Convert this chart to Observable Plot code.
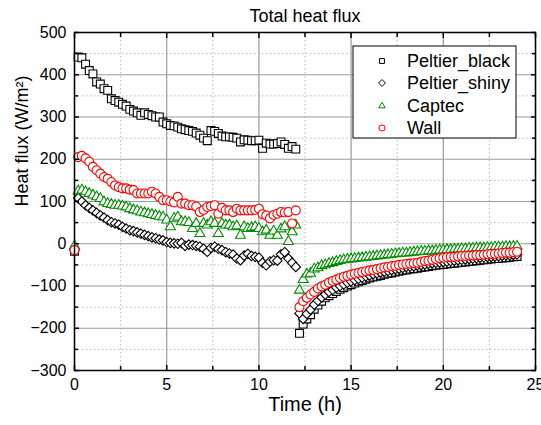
<!DOCTYPE html>
<html>
<head>
<meta charset="utf-8">
<script src="https://cdn.jsdelivr.net/npm/d3@7"></script>
<script src="https://cdn.jsdelivr.net/npm/@observablehq/plot@0.6"></script>
<style>
  html, body { margin: 0; padding: 0; background: #fff; }
  #chart { width: 541px; height: 425px; }
  svg { font-family: "Liberation Sans", Arial, sans-serif; }
</style>
</head>
<body>
<div id="chart"></div>
<script>
const title = "Total heat flux";
const xLabel = "Time (h)";
const yLabel = "Heat flux (W/m²)";
const seriesNames = ["Peltier_black", "Peltier_shiny", "Captec", "Wall"];

const xMajor = [0, 5, 10, 15, 20, 25];
const xMinor = [2.5, 7.5, 12.5, 17.5, 22.5];
const yMajor = [-300, -200, -100, 0, 100, 200, 300, 400, 500];
const yMinor = [-250, -150, -50, 50, 150, 250, 350, 450];

// time (h), heating phase and cooling phase
const time1 = [0,0.2,0.4,0.6,0.8,1,1.2,1.4,1.6,1.8,2,2.2,2.4,2.6,2.8,3,3.2,3.4,3.6,3.8,4,4.2,4.4,4.6,4.8,5,5.2,5.4,5.6,5.8,6,6.2,6.4,6.6,6.8,7,7.2,7.4,7.6,7.8,8,8.2,8.4,8.6,8.8,9,9.2,9.4,9.6,9.8,10,10.2,10.4,10.6,10.8,11,11.2,11.4,11.6,11.8,12];
const time2 = [12.2,12.4,12.6,12.8,13,13.2,13.4,13.6,13.8,14,14.2,14.4,14.6,14.8,15,15.2,15.4,15.6,15.8,16,16.2,16.4,16.6,16.8,17,17.2,17.4,17.6,17.8,18,18.2,18.4,18.6,18.8,19,19.2,19.4,19.6,19.8,20,20.2,20.4,20.6,20.8,21,21.2,21.4,21.6,21.8,22,22.2,22.4,22.6,22.8,23,23.2,23.4,23.6,23.8,24];

const peltierBlack1 = [-18,442,440,425,410,402,383,378,367,363,343,339,335,330,326,318,314,310,304,310,306,303,300,300,288,284,280,279,276,272,270,268,266,262,257,250,244,268,266,261,255,253,253,252,250,241,246,245,244,244,245,226,238,236,236,237,241,235,226,230,224];
const peltierBlack2 = [-212,-190,-178,-168,-155,-145,-136,-128,-123,-118,-113,-108,-104,-100,-97,-93,-90,-87,-84,-81,-79,-77,-75,-72,-70,-69,-67,-65,-63,-62,-60,-59,-58,-56,-55,-54,-52,-51,-50,-49,-48,-47,-46,-45,-44,-43,-42,-41,-40,-39,-38,-37,-36,-35,-35,-34,-33,-32,-31,-30];

const peltierShiny1 = [-15,108,100,91,85,79,73,67,62,56,51,48,45,40,36,32,30,27,24,21,18,15,13,10,8,4,2,1,0,2,-5,-2,-3,-5,-7,-12,-19,-10,-7,-12,-15,-20,-23,-26,-35,-39,-28,-24,-29,-31,-33,-45,-51,-42,-39,-40,-25,-20,-35,-45,-55];
const peltierShiny2 = [-165,-178,-166,-156,-144,-135,-127,-120,-114,-109,-104,-100,-96,-92,-89,-86,-83,-80,-77,-75,-72,-70,-68,-66,-64,-62,-60,-59,-57,-55,-54,-53,-51,-50,-49,-47,-46,-45,-44,-43,-42,-41,-40,-39,-38,-37,-36,-35,-34,-33,-32,-31,-31,-30,-29,-28,-27,-27,-26,-25];

const captec1 = [-5,125,127,123,119,115,111,107,99,95,93,91,91,89,87,83,80,78,75,73,71,69,67,65,63,56,40,60,63,52,52,50,36,48,24,48,44,52,48,24,48,44,44,40,42,20,40,36,38,40,36,28,32,20,30,20,35,40,5,28,44];
const captec2 = [-110,-85,-72,-70,-60,-57,-52,-50,-47,-45,-42,-40,-38,-37,-36,-35,-34,-33,-32,-31,-30,-29,-28,-27,-26,-25,-24,-23,-22,-22,-21,-20,-19,-18,-18,-17,-17,-16,-15,-15,-14,-14,-13,-13,-12,-12,-11,-11,-10,-10,-10,-9,-9,-8,-8,-8,-7,-7,-6,-6];

const wall1 = [-15,205,208,202,194,182,174,166,158,154,146,138,134,131,131,128,127,119,119,119,119,123,119,111,103,103,100,98,111,95,95,91,91,88,75,80,87,89,91,71,85,79,79,75,83,79,79,79,79,80,83,70,67,60,68,71,75,74,75,48,79];
const wall2 = [-150,-136,-128,-120,-114,-106,-101,-97,-92,-88,-85,-81,-78,-76,-73,-71,-69,-67,-65,-63,-62,-60,-58,-56,-55,-53,-52,-50,-49,-48,-47,-46,-45,-43,-41,-40,-38,-36,-34,-33,-32,-31,-31,-30,-29,-29,-28,-28,-27,-27,-26,-25,-24,-24,-23,-22,-21,-21,-20,-19];

const time = time1.concat(time2);
function rows(v1, v2) {
  const v = v1.concat(v2);
  return time.map((t, i) => ({t, v: v[i]}));
}
const styles = [
  {data: rows(peltierBlack1, peltierBlack2), symbol: "square2", stroke: "#000000", r: 5.0},
  {data: rows(peltierShiny1, peltierShiny2), symbol: "diamond2", stroke: "#000000", r: 4.3},
  {data: rows(captec1, captec2), symbol: "triangle2", stroke: "#008c00", r: 4.8},
  {data: rows(wall1, wall2), symbol: "circle", stroke: "#ff0000", r: 4.5}
];

const font = 16;
const svg = Plot.plot({
  width: 541,
  height: 425,
  marginLeft: 74,
  marginRight: 6,
  marginTop: 32,
  marginBottom: 55,
  style: {fontFamily: "Liberation Sans, Arial, sans-serif", fontSize: font + "px", color: "#000", background: "#fff"},
  x: {domain: [0, 25]},
  y: {domain: [-300, 500]},
  marks: [
    Plot.gridX(xMinor, {stroke: "#b8b8b8", strokeOpacity: 1, strokeDasharray: "1.5,2.5"}),
    Plot.gridY(yMinor, {stroke: "#b8b8b8", strokeOpacity: 1, strokeDasharray: "1.5,2.5"}),
    Plot.gridX(xMajor, {stroke: "#9a9a9a", strokeOpacity: 1, strokeWidth: 1.2}),
    Plot.gridY(yMajor, {stroke: "#9a9a9a", strokeOpacity: 1, strokeWidth: 1.2}),
    ...styles.map(s => Plot.dot(s.data, {x: "t", y: "v", symbol: () => s.symbol, stroke: s.stroke, fill: "white", r: s.r, strokeWidth: 1.1})),
    Plot.axisX(xMajor, {anchor: "bottom", tickSize: 0, tickPadding: 8, label: null, fontSize: font}),
    Plot.axisY(yMajor, {anchor: "left", tickSize: 0, tickPadding: 8, label: null, fontSize: font}),
    Plot.axisX(xMajor, {anchor: "bottom", tickSize: -5, text: null, label: null, strokeWidth: 1.5}),
    Plot.axisX(xMajor, {anchor: "top", tickSize: -5, text: null, label: null, strokeWidth: 1.5}),
    Plot.axisX(xMinor, {anchor: "bottom", tickSize: -4, text: null, label: null, strokeWidth: 1.5}),
    Plot.axisX(xMinor, {anchor: "top", tickSize: -4, text: null, label: null, strokeWidth: 1.5}),
    Plot.axisY(yMajor, {anchor: "left", tickSize: -5, text: null, label: null, strokeWidth: 1.5}),
    Plot.axisY(yMajor, {anchor: "right", tickSize: -5, text: null, label: null, strokeWidth: 1.5}),
    Plot.axisY(yMinor, {anchor: "left", tickSize: -4, text: null, label: null, strokeWidth: 1.5}),
    Plot.axisY(yMinor, {anchor: "right", tickSize: -4, text: null, label: null, strokeWidth: 1.5}),
    Plot.frame({stroke: "#000", strokeWidth: 1.5}),
    Plot.text([title], {frameAnchor: "top", dy: -23, fontSize: 18, fill: "#000"}),
    Plot.text([xLabel], {frameAnchor: "bottom", dy: 40, fontSize: 20, fill: "#000"}),
    Plot.text([yLabel], {frameAnchor: "left", dx: -52, dy: 5, rotate: -90, fontSize: 18, fill: "#000"})
  ]
});

// legend box
const lg = d3.select(svg).append("g").attr("text-anchor", "start");
lg.append("rect").attr("x", 353).attr("y", 46).attr("width", 163).attr("height", 92)
  .attr("fill", "white").attr("stroke", "#000").attr("stroke-width", 1);
const legSyms = [d3.symbolSquare2, d3.symbolDiamond2, d3.symbolTriangle2, d3.symbolCircle];
const legRows = [61, 83, 106, 128];
seriesNames.forEach((name, i) => {
  lg.append("path").attr("d", d3.symbol(legSyms[i], 30)())
    .attr("transform", `translate(382,${legRows[i]})`)
    .attr("fill", "white").attr("stroke", styles[i].stroke).attr("stroke-width", 1);
  lg.append("text").attr("x", 407).attr("y", legRows[i]).attr("dy", "0.35em")
    .attr("text-anchor", "start").attr("font-size", 18).attr("fill", "#000").text(name);
});

document.getElementById("chart").appendChild(svg);
</script>
</body>
</html>
